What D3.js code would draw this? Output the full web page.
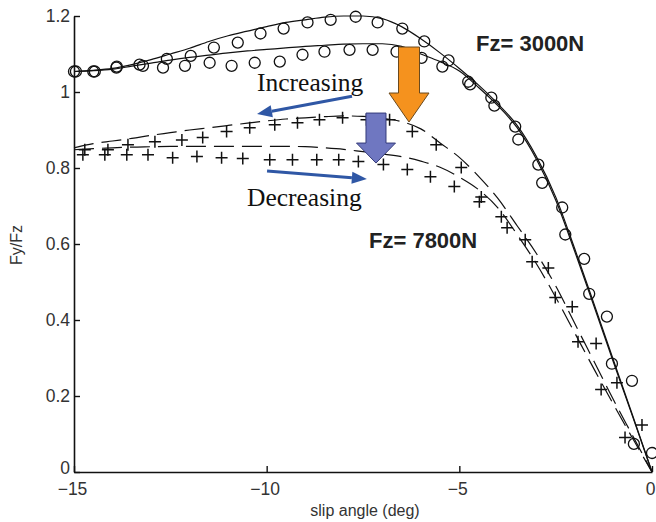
<!DOCTYPE html>
<html><head><meta charset="utf-8">
<script src="https://cdn.jsdelivr.net/npm/d3@7"></script>
<style>body{margin:0;background:#fff}</style>
</head><body>
<svg id="c" width="656" height="522"></svg>
<script>
// ---------- data ----------
const xTicks = [-15, -10, -5, 0];
const yTicks = [0, 0.2, 0.4, 0.6, 0.8, 1, 1.2];

// model curves (common slip angle grid)
const lineX = [-15,-14.5,-14,-13.5,-13,-12.5,-12,-11.5,-11,-10.5,-10,-9.5,-9,-8.5,-8,-7.5,-7,-6.5,-6,-5.5,-5,-4.5,-4,-3.5,-3,-2.5,-2,-1.5,-1,-0.5,0];
const fit3000a = [1.054,1.057,1.062,1.072,1.085,1.1,1.115,1.133,1.148,1.16,1.172,1.183,1.19,1.197,1.2,1.2,1.193,1.172,1.14,1.103,1.062,1.018,0.969,0.912,0.83,0.724,0.586,0.441,0.294,0.148,0];
const fit3000b = [1.054,1.056,1.06,1.068,1.076,1.084,1.091,1.097,1.103,1.108,1.112,1.116,1.12,1.123,1.126,1.127,1.127,1.12,1.1,1.08,1.055,1.012,0.964,0.906,0.823,0.716,0.579,0.435,0.289,0.145,0];
const fit7800a = [0.853,0.864,0.871,0.878,0.886,0.893,0.9,0.906,0.912,0.918,0.924,0.929,0.932,0.935,0.937,0.936,0.931,0.922,0.903,0.866,0.828,0.778,0.72,0.648,0.575,0.49,0.39,0.29,0.19,0.095,0];
const fit7800b = [0.848,0.851,0.853,0.855,0.856,0.857,0.857,0.857,0.857,0.857,0.857,0.857,0.856,0.853,0.849,0.843,0.837,0.83,0.818,0.802,0.776,0.743,0.695,0.625,0.548,0.46,0.365,0.27,0.178,0.088,0];

// measured points: Fz = 3000N (circles)
const circAx = [-14.95,-14.46,-13.89,-13.21,-12.59,-11.97,-11.37,-10.75,-10.16,-9.56,-8.94,-8.34,-7.69,-7.12,-6.48,-5.91,-5.28,-4.77,-4.17,-3.55,-2.95,-2.33,-1.76,-1.17,-0.52,0.0];
const circAy = [1.054,1.054,1.067,1.069,1.087,1.095,1.117,1.13,1.154,1.167,1.183,1.19,1.198,1.183,1.167,1.133,1.083,1.027,0.985,0.909,0.809,0.696,0.561,0.409,0.24,0.05];
const circBx = [-15.0,-14.5,-13.9,-13.3,-12.69,-12.12,-11.48,-10.91,-10.31,-9.66,-9.07,-8.5,-7.85,-7.25,-6.63,-5.98,-5.44,-4.72,-4.09,-3.47,-2.85,-2.25,-1.63,-1.04,-0.47];
const circBy = [1.054,1.054,1.064,1.072,1.064,1.069,1.077,1.069,1.077,1.08,1.098,1.106,1.111,1.111,1.106,1.09,1.067,1.02,0.964,0.875,0.761,0.625,0.469,0.285,0.074];

// measured points: Fz = 7800N (plus signs)
const plusAx = [-14.72,-14.12,-13.6,-12.9,-12.2,-11.66,-11.04,-10.44,-9.79,-9.2,-8.63,-8.03,-7.41,-6.81,-6.22,-5.6,-4.95,-4.43,-3.91,-3.29,-2.69,-2.07,-1.45,-0.91,-0.26];
const plusAy = [0.848,0.848,0.861,0.869,0.874,0.88,0.896,0.906,0.914,0.919,0.927,0.932,0.927,0.927,0.896,0.861,0.801,0.724,0.672,0.611,0.537,0.435,0.338,0.235,0.124];
const plusBx = [-14.77,-14.2,-13.63,-13.08,-12.44,-11.81,-11.17,-10.62,-9.92,-9.33,-8.7,-8.13,-7.62,-6.97,-6.35,-5.75,-5.13,-4.48,-3.76,-3.11,-2.51,-1.92,-1.32,-0.7];
const plusBy = [0.835,0.835,0.835,0.835,0.827,0.83,0.827,0.825,0.822,0.822,0.822,0.822,0.817,0.809,0.796,0.777,0.751,0.711,0.643,0.553,0.459,0.343,0.217,0.091];

// ---------- drawing ----------
const svg = d3.select('#c');
const x = d3.scaleLinear().domain([-15, 0]).range([74, 652]);
const y = d3.scaleLinear().domain([0, 1.2]).range([472, 16]);

const line = d3.line().x(d => x(d[0])).y(d => y(d[1])).curve(d3.curveMonotoneX);
const zip = (xs, ys) => xs.map((v, i) => [v, ys[i]]);

const g = svg.append('g');
[[fit3000a, null], [fit3000b, null], [fit7800a, '20,8'], [fit7800b, '20,8']].forEach(([ys, dash]) => {
  g.append('path').datum(zip(lineX, ys)).attr('d', line)
    .attr('fill', 'none').attr('stroke', '#111').attr('stroke-width', 1.2)
    .attr('stroke-dasharray', dash);
});

[[circAx, circAy], [circBx, circBy]].forEach(([xs, ys]) => {
  g.selectAll(null).data(zip(xs, ys)).enter().append('circle')
    .attr('cx', d => x(d[0])).attr('cy', d => y(d[1])).attr('r', 5.5)
    .attr('fill', 'none').attr('stroke', '#111').attr('stroke-width', 1.3);
});
[[plusAx, plusAy], [plusBx, plusBy]].forEach(([xs, ys]) => {
  g.selectAll(null).data(zip(xs, ys)).enter().append('path')
    .attr('d', d => { const px = x(d[0]), py = y(d[1]); return `M${px-6},${py}H${px+6}M${px},${py-6}V${py+6}`; })
    .attr('stroke', '#111').attr('stroke-width', 1.5).attr('fill', 'none');
});

// axes
const ax = svg.append('g').attr('transform', 'translate(0,472)')
  .call(d3.axisBottom(x).tickValues(xTicks).tickSizeInner(-6).tickSizeOuter(0).tickPadding(11).tickFormat(d3.format('d')));
const ay = svg.append('g').attr('transform', 'translate(74,0)')
  .call(d3.axisLeft(y).tickValues(yTicks).tickSizeInner(-6).tickSizeOuter(0).tickPadding(4).tickFormat(d => String(d)));
[ax, ay].forEach(a => {
  a.select('.domain').attr('stroke', '#111').attr('stroke-width', 1.6);
  a.selectAll('.tick line').attr('stroke', '#111').attr('stroke-width', 1.4);
  a.selectAll('.tick text').attr('font-family', 'Liberation Sans, Arial, sans-serif').attr('font-size', 17.5).attr('fill', '#333');
});
ax.selectAll('.tick text').attr('dx', '-2');
ay.selectAll('.tick').filter(d => d === 0).select('text').attr('y', -4);

svg.append('text').attr('x', 365).attr('y', 516).attr('text-anchor', 'middle')
  .attr('font-family', 'Liberation Sans, Arial, sans-serif').attr('font-size', 16).attr('fill', '#333')
  .text('slip angle (deg)');
svg.append('text').attr('transform', 'translate(22,245) rotate(-90)').attr('text-anchor', 'middle')
  .attr('font-family', 'Liberation Sans, Arial, sans-serif').attr('font-size', 16).attr('fill', '#333')
  .text('Fy/Fz');

// annotations (anchored in data units)
const fam = 'Liberation Sans, Arial, sans-serif';
svg.append('text').attr('x', x(-4.567)).attr('y', y(1.108)).attr('font-family', fam)
  .attr('font-weight', 'bold').attr('font-size', 22).attr('fill', '#222').text('Fz= 3000N');
svg.append('text').attr('x', x(-7.344)).attr('y', y(0.589)).attr('font-family', fam)
  .attr('font-weight', 'bold').attr('font-size', 22).attr('fill', '#222').text('Fz= 7800N');
svg.append('text').attr('x', x(-10.25)).attr('y', y(1.003)).attr('font-family', 'Liberation Serif, Times New Roman, serif')
  .attr('font-size', 25.5).attr('fill', '#111').text('Increasing');
svg.append('text').attr('x', x(-10.51)).attr('y', y(0.70)).attr('font-family', 'Liberation Serif, Times New Roman, serif')
  .attr('font-size', 25.5).attr('fill', '#111').text('Decreasing');

// thin blue arrows
function thinArrow(x1, y1, x2, y2) {
  const X1 = x(x1), Y1 = y(y1), X2 = x(x2), Y2 = y(y2);
  const ang = Math.atan2(Y2 - Y1, X2 - X1), L = 15, W = 6;
  const bx = X2 - L * Math.cos(ang), by = Y2 - L * Math.sin(ang);
  svg.append('line').attr('x1', X1).attr('y1', Y1).attr('x2', bx).attr('y2', by)
    .attr('stroke', '#2f57a5').attr('stroke-width', 3);
  const px = -Math.sin(ang) * W, py = Math.cos(ang) * W;
  svg.append('path').attr('d', `M${X2},${Y2}L${bx+px},${by+py}L${bx-px},${by-py}Z`).attr('fill', '#2f57a5');
}
thinArrow(-7.785, 0.989, -10.25, 0.942);
thinArrow(-9.99, 0.792, -7.40, 0.771);

// block arrows: tip anchored in data units, shape in pixels
function blockArrow(tx, ty, shaftW, shaftH, headW, headH, fill, stroke) {
  const X = x(tx), Y = y(ty);
  const pts = [[-shaftW/2, -headH - shaftH], [shaftW/2, -headH - shaftH], [shaftW/2, -headH], [headW/2, -headH],
               [0, 0], [-headW/2, -headH], [-shaftW/2, -headH]];
  svg.append('path').attr('d', 'M' + pts.map(p => `${X+p[0]},${Y+p[1]}`).join('L') + 'Z')
    .attr('fill', fill).attr('stroke', stroke).attr('stroke-width', 1);
}
blockArrow(-6.306, 0.921, 21, 46, 40, 29, '#f5921e', '#6b4a1e');
blockArrow(-7.163, 0.813, 20, 30, 39, 20, '#6f77c1', '#343b7a');
</script>
</body></html>
